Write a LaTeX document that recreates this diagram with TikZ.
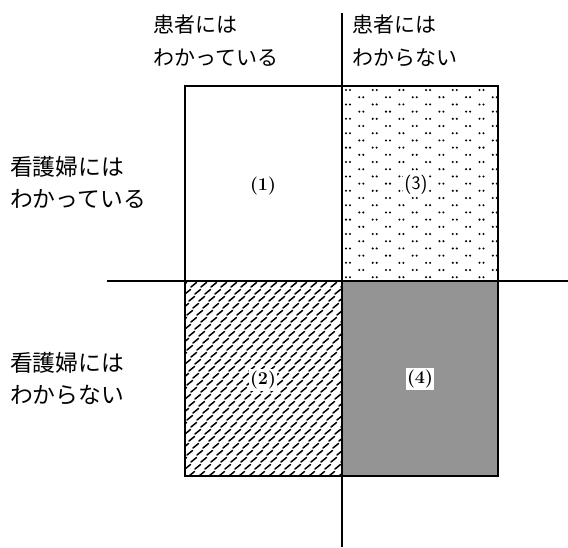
\documentclass[tikz,border=0pt]{standalone}
\usepackage{fontspec}
\newfontfamily\jp{Noto Sans CJK JP}
\begin{document}
\begin{tikzpicture}[x=1pt,y=-1pt,
  jplabel/.style={font=\jp\fontsize{21}{33}\selectfont, align=left, anchor=base west, inner sep=0pt},
  jpwide/.style={jplabel, font=\jp\fontsize{22.8}{32}\selectfont},
  numlabel/.style={font=\fontsize{18}{20}\selectfont\bfseries, inner sep=1.5pt},
  axisline/.style={line width=1.1pt},
  frameline/.style={line width=1.6pt},
  baseline/.style={line width=2.6pt},
  dotfill/.style={fill=black},
  dashline/.style={line width=1.5pt, line cap=round}]
\useasboundingbox (0,0) rectangle (568,547);
% quadrant (4): fine grey screen
\fill[black!42] (342,281) rectangle (498,476);
% quadrant (3): dots
\begin{scope}
  \clip (342,86) rectangle (498,281);
  \foreach \j in {0,...,27} {
    \pgfmathsetmacro\yy{90+7.2*\j}
    \pgfmathsetmacro\off{mod(\j,2)*13.3}
    \foreach \i in {0,...,6} {
      \fill[dotfill] (346+\off+26.7*\i,\yy) circle[radius=1.15pt]
                     (350+\off+26.7*\i,\yy) circle[radius=1.15pt];
    }
  }
\end{scope}
% quadrant (2): slanted dashes
\begin{scope}
  \clip (185,281) rectangle (342,476);
  \foreach \j in {0,...,28} {
    \pgfmathsetmacro\yy{287+7*\j}
    \pgfmathsetmacro\off{mod(\j*4,10)}
    \foreach \i in {-1,...,16} {
      \draw[dashline] (181+\off+10*\i,\yy) -- ++(5.5,-4.5);
    }
  }
\end{scope}
% axes and frame
\draw[axisline] (342,13) -- (342,547);
\draw[axisline] (107,281) -- (568,281);
\draw[frameline] (185,86) rectangle (498,476);
\draw[baseline] (185,476) -- (498,476);
% labels (anchor = baseline of the last line)
\node[jplabel] (pk) at (153,65) {患者には\\わかっている};
\node[jplabel] (pu) at (352,65) {患者には\\わからない};
\node[jpwide] (nk) at (10,207) {看護婦には\\わかっている};
\node[jpwide] (nu) at (10,403) {看護婦には\\わからない};
\node[numlabel] (q1) at (263,186) {(1)};
\node[numlabel, font=\fontsize{19}{20}\selectfont\sffamily, fill=white] (q3) at (416,185) {(3)};
\node[numlabel, fill=white] (q2) at (263,380) {(2)};
\node[numlabel, fill=white] (q4) at (420,379) {(4)};
\end{tikzpicture}
\end{document}
